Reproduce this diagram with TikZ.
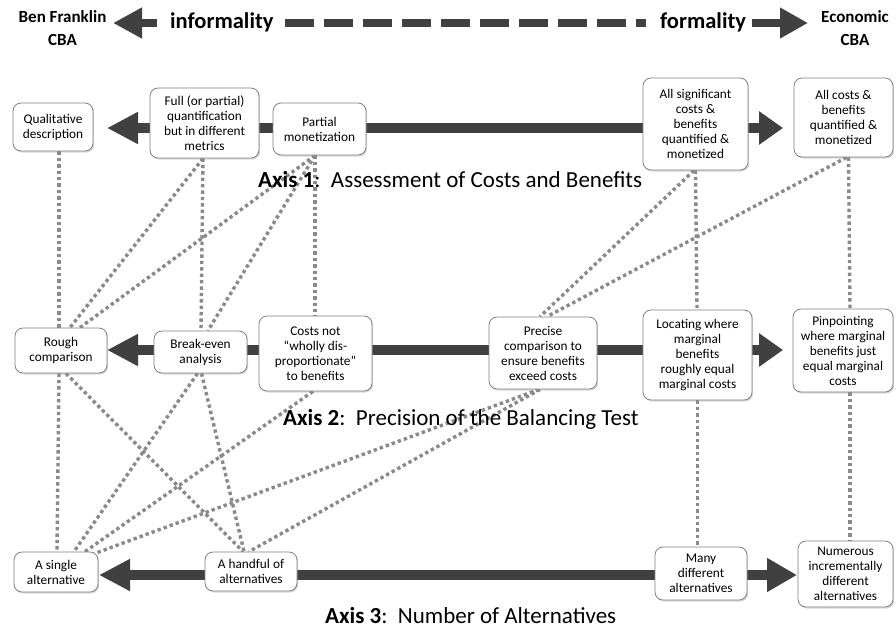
\documentclass[tikz,border=0pt]{standalone}
\usepackage{fontspec}
\setmainfont{Carlito}
\usetikzlibrary{arrows.meta,shadows,calc}
\pgfdeclarelayer{bg}
\pgfsetlayers{bg,main}
\definecolor{arrowc}{HTML}{404040}
\definecolor{dotc}{HTML}{8A8A8A}
\definecolor{boxborder}{HTML}{808080}
\begin{document}
\begin{tikzpicture}[x=1pt,y=-1pt,
  box/.style={draw=boxborder, line width=0.8pt, fill=white, rounded corners=8pt, align=center, inner sep=2pt,
    font=\fontsize{13.3pt}{15pt}\selectfont,
    drop shadow={shadow xshift=1.2pt, shadow yshift=-1.5pt, opacity=0.3}},
  link/.style={draw=dotc, line width=3.4pt, dash pattern=on 3.4pt off 3pt},
  axisarrow/.style={draw=arrowc, line width=10pt},
  hdrarrow/.style={draw=arrowc, line width=8pt},
  hdrtext/.style={font=\bfseries\fontsize{22.5pt}{27pt}\selectfont, inner sep=0pt, anchor=base west},
  endtext/.style={font=\bfseries\fontsize{17pt}{23pt}\selectfont, align=center, inner sep=0pt, anchor=base},
  axislabel/.style={font=\fontsize{23pt}{27pt}\selectfont, inner sep=0pt, anchor=base west},
]
\begin{pgfonlayer}{bg}
\path[fill=white] (0,0) rectangle (896,630);
\end{pgfonlayer}
\path[use as bounding box] (0,0) rectangle (896,630);

% header
\node[endtext] (benf) at (62.5,45) {Ben Franklin\\CBA};
\node[endtext] (econ) at (855,45) {Economic\\CBA};
\node[hdrtext] (informal) at (170,28) {informality};
\node[hdrtext] (formal) at (660,28) {formality};
\coordinate (hl1) at (157,23); \coordinate (hl2) at (113,23);
\coordinate (d1) at (285,23); \coordinate (d2) at (646,23);
\coordinate (hr1) at (752,23); \coordinate (hr2) at (808,23);
\draw[hdrarrow, -{Triangle[length=29pt,width=29pt]}] (hl1) -- (hl2);
\draw[hdrarrow, dash pattern=on 29pt off 10pt] (d1) -- (d2);
\draw[hdrarrow, -{Triangle[length=28pt,width=29pt]}] (hr1) -- (hr2);

% axis 1 boxes
\node[box, minimum width=80pt, minimum height=48pt] (qual) at (53,127) {Qualitative\\description};
\node[box, minimum width=109pt, minimum height=70pt] (full) at (204.5,123) {Full (or partial)\\quantification\\but in different\\metrics};
\node[box, minimum width=93pt, minimum height=52pt] (partial) at (319.5,129) {Partial\\monetization};
\node[box, minimum width=105pt, minimum height=92pt] (allsig) at (695.5,124) {All significant\\costs \&\\benefits\\quantified \&\\monetized};
\node[box, minimum width=99pt, minimum height=79pt] (allcosts) at (843.5,117.5) {All costs \&\\benefits\\quantified \&\\monetized};

% axis 2 boxes
\node[box, minimum width=92pt, minimum height=45pt] (rough) at (61,350.5) {Rough\\comparison};
\node[box, minimum width=93pt, minimum height=42pt] (breakeven) at (200.5,352) {Break-even\\analysis};
\node[box, minimum width=113pt, minimum height=75pt] (costsnot) at (315.5,353.5) {Costs not\\“wholly dis-\\proportionate”\\to benefits};
\node[box, minimum width=108pt, minimum height=72pt] (precise) at (543,353) {Precise\\comparison to\\ensure benefits\\exceed costs};
\node[box, minimum width=109pt, minimum height=90pt] (locating) at (697.5,355) {Locating where\\marginal\\benefits\\roughly equal\\marginal costs};
\node[box, minimum width=100pt, minimum height=83pt] (pinpoint) at (843,350.5) {Pinpointing\\where marginal\\benefits just\\equal marginal\\costs};

% axis 3 boxes
\node[box, minimum width=84pt, minimum height=40pt] (single) at (56,572) {A single\\alternative};
\node[box, minimum width=92pt, minimum height=39pt] (handful) at (251,571.5) {A handful of\\alternatives};
\node[box, minimum width=92pt, minimum height=53pt] (many) at (701,573.5) {Many\\different\\alternatives};
\node[box, minimum width=95pt, minimum height=66pt] (numerous) at (845.5,574) {Numerous\\incrementally\\different\\alternatives};

% axis labels
\node[axislabel] (ax1) at (258,187) {\textbf{Axis 1}:\ \ Assessment of Costs and Benefits};
\node[axislabel] (ax2) at (283,425) {\textbf{Axis 2}:\ \ Precision of the Balancing Test};
\node[axislabel] (ax3) at (325,623) {\textbf{Axis 3}:\ \ Number of Alternatives};

\begin{pgfonlayer}{bg}
\coordinate (a1l) at (107,128); \coordinate (a1r) at (783,128);
\coordinate (a2l) at (107,350); \coordinate (a2r) at (783,350);
\coordinate (a3l) at (99,575); \coordinate (a3r) at (797,575);
\draw[axisarrow, {Triangle[length=31pt,width=30pt]}-{Triangle[length=24pt,width=32pt]}] (a1l) -- (a1r);
\draw[axisarrow, {Triangle[length=31pt,width=30pt]}-{Triangle[length=24pt,width=32pt]}] (a2l) -- (a2r);
\draw[axisarrow, {Triangle[length=31pt,width=30pt]}-{Triangle[length=30pt,width=32pt]}] (a3l) -- (a3r);

% axis 1 -> axis 2
\draw[link] ([xshift=6pt]qual.south) -- ([xshift=-2pt]rough.north);
\draw[link] ([xshift=-1.5pt]full.south) -- ([xshift=9pt]rough.north);
\draw[link] ([xshift=-1.5pt]full.south) -- ([xshift=0.5pt]breakeven.north);
\draw[link] ([xshift=-4.5pt]partial.south) -- ([xshift=-0.5pt]costsnot.north);
\draw[link] ([xshift=-4.5pt]partial.south) -- ([xshift=19pt]rough.north);
\draw[link] ([xshift=-4.5pt]partial.south) -- ([xshift=7.5pt]breakeven.north);
\draw[link] ([xshift=0pt]allsig.south) -- ([xshift=-0.5pt]locating.north);
\draw[link] ([xshift=-1.5pt]allsig.south) -- ([xshift=-3pt]precise.north);
\draw[link] ([xshift=5pt]allcosts.south) -- ([xshift=7pt]pinpoint.north);
\draw[link] ([xshift=3pt]allcosts.south) -- ([xshift=4pt]precise.north);

% axis 2 -> axis 3
\draw[link] ([xshift=-2pt]rough.south) -- ([xshift=1pt]single.north);
\draw[link] ([xshift=5pt]rough.south) -- ([xshift=-8pt]handful.north);
\draw[link] ([xshift=-3pt]breakeven.south) -- ([xshift=18pt]single.north);
\draw[link] ([xshift=1pt]breakeven.south) -- ([xshift=-7pt]handful.north);
\draw[link] ([xshift=-2.5pt]costsnot.south) -- ([xshift=29pt]single.north);
\draw[link] ([xshift=-4pt]precise.south) -- ([shift={(-4pt,-2pt)}]single.north east);
\draw[link] ([xshift=-3pt]precise.south) -- ([xshift=-2pt]handful.north);
\draw[link] (locating.south) -- ([xshift=-3.5pt]many.north);
\draw[link] ([xshift=7pt]pinpoint.south) -- ([xshift=4.5pt]numerous.north);
\end{pgfonlayer}
\end{tikzpicture}
\end{document}
